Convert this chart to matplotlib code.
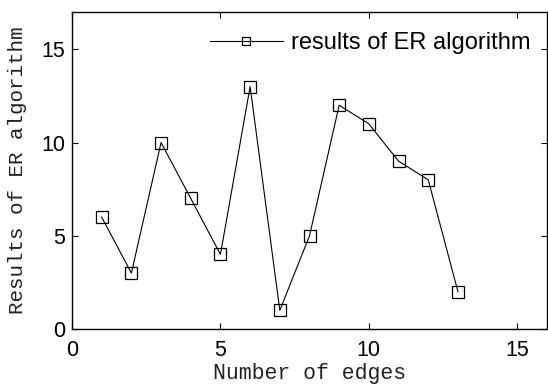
import matplotlib.pyplot as plt
import numpy as np

# Ergebnisse des ER-Algorithmus je Kantenanzahl
edges = np.arange(1, 14)
er_results = [6, 3, 10, 7, 4, 13, 1, 5, 12, 11, 9, 8, 2]

fig = plt.figure(figsize=(5.48, 3.86), dpi=100)
ax = fig.add_axes([72 / 548, 1 - 329 / 386, (547 - 72) / 548, (329 - 12) / 386])

ax.plot(edges, er_results, color='black', linewidth=0.8, marker='s',
        markersize=8.5, markerfacecolor='none', markeredgecolor='black',
        markeredgewidth=0.9, label='results of ER algorithm')

ax.set_xlim(0, 16)
ax.set_ylim(0, 17)
ax.set_xticks([0, 5, 10, 15])
ax.set_yticks([0, 5, 10, 15])
ax.tick_params(direction='in', top=True, right=True, length=4, width=0.8,
               labelsize=15.5)
ax.tick_params(axis='x', pad=8)
ax.tick_params(axis='y', pad=5)
for lbl in ax.get_xticklabels() + ax.get_yticklabels():
    lbl.set_family('Liberation Sans')
for s in ax.spines.values():
    s.set_linewidth(1.0)

ax.set_xlabel('Number of edges', family='Liberation Mono', fontsize=15.5,
              va='center', color='#222222')
ax.set_ylabel('Results of ER algorithm', family='Liberation Mono', fontsize=15,
              va='center', color='#222222')
ax.xaxis.set_label_coords(0.5, -0.139)
ax.yaxis.set_label_coords(-0.114, 0.5)

ax.legend(loc='center right', bbox_to_anchor=(1.0, (329 - 43) / 317), frameon=False,
          prop={'family': 'Liberation Sans', 'size': 17}, handlelength=3.1,
          handletextpad=0.35, borderaxespad=0.3, markerscale=0.65)

fig.savefig('out.png', dpi=100)
